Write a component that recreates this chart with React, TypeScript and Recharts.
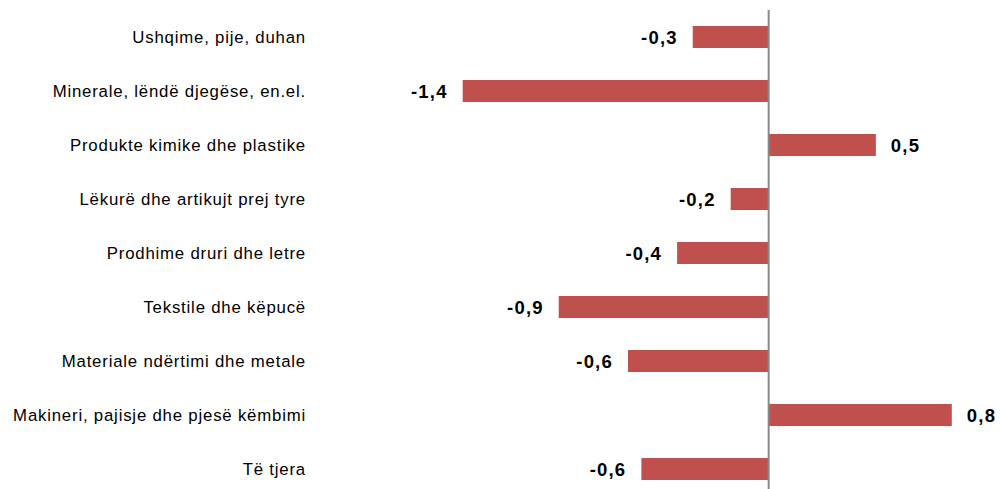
import React from "react";
import { BarChart, Bar, XAxis, YAxis, ReferenceLine, LabelList } from "recharts";

const categories = [
  "Ushqime, pije, duhan",
  "Minerale, lëndë djegëse, en.el.",
  "Produkte kimike dhe plastike",
  "Lëkurë dhe artikujt prej tyre",
  "Prodhime druri dhe letre",
  "Tekstile dhe këpucë",
  "Materiale ndërtimi dhe metale",
  "Makineri, pajisje dhe pjesë këmbimi",
  "Të tjera",
];

const values = [-0.34, -1.37, 0.48, -0.17, -0.41, -0.94, -0.63, 0.82, -0.57];

const valueLabels = ["-0,3", "-1,4", "0,5", "-0,2", "-0,4", "-0,9", "-0,6", "0,8", "-0,6"];

const data = categories.map((name, i) => ({ name, value: values[i], label: valueLabels[i] }));

const FONT = "'Liberation Sans', Arial, sans-serif";

const ValueLabel = (props: any) => {
  const { x, y, width, height, index } = props;
  const left = Math.min(x, x + width);
  const right = Math.max(x, x + width);
  const v = values[index];
  const neg = v < 0;
  return (
    <text
      x={neg ? left - 15 : right + 15}
      y={y + height / 2}
      dy="0.38em"
      textAnchor={neg ? "end" : "start"}
      fontFamily={FONT}
      fontSize={18.5}
      fontWeight="bold"
      letterSpacing={1.2}
      fill="#000"
    >
      {valueLabels[index]}
    </text>
  );
};

export default function App() {
  return (
    <div style={{ position: "absolute", left: 0, top: 0, width: 1000, height: 489, overflow: "hidden", background: "#fff" }}>
      <BarChart
        width={1000}
        height={496}
        data={data}
        layout="vertical"
        margin={{ top: 10, right: 8, bottom: 0, left: 0 }}
        barSize={22}
      >
        <XAxis type="number" domain={[-2, 1]} hide />
        <YAxis
          type="category"
          dataKey="name"
          width={322}
          axisLine={false}
          tickLine={false}
          tickSize={0}
          tickMargin={16}
          interval={0}
          tick={{ fill: "#000", fontSize: 16.8, fontFamily: FONT, letterSpacing: 0.8 } as any}
        />
        <Bar dataKey="value" fill="#C0504D" isAnimationActive={false}>
          <LabelList dataKey="value" content={ValueLabel} />
        </Bar>
        <ReferenceLine x={0} stroke="#888888" strokeWidth={2} />
      </BarChart>
    </div>
  );
}
